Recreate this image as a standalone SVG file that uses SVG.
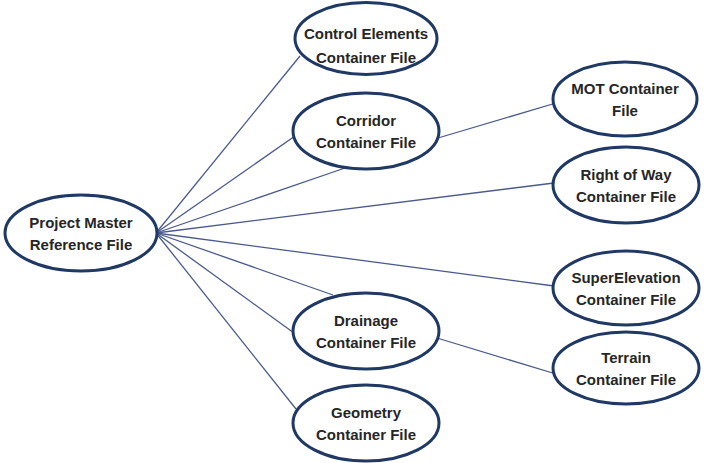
<svg xmlns="http://www.w3.org/2000/svg" width="707" height="463" viewBox="0 0 707 463">
<style>
.n ellipse{fill:#fff;stroke:#1f3864;stroke-width:3}
.n text{font-family:"Liberation Sans",Arial,sans-serif;font-weight:bold;font-size:15px;fill:#262626;text-anchor:middle}
.c line{stroke:#4a5a8c;stroke-width:1.3}
</style>
<rect width="707" height="463" fill="#fff"/>
<g id="connectors" class="c">
<line x1="156" y1="233" x2="300" y2="56"/>
<line x1="156" y1="233" x2="295" y2="136"/>
<line x1="156" y1="233" x2="345" y2="168"/>
<line x1="156" y1="233" x2="554" y2="183"/>
<line x1="156" y1="233" x2="554" y2="286"/>
<line x1="156" y1="233" x2="333" y2="295"/>
<line x1="156" y1="233" x2="294" y2="333"/>
<line x1="156" y1="233" x2="296" y2="409"/>
<line x1="438" y1="138" x2="556" y2="103"/>
<line x1="437" y1="338" x2="556" y2="374"/>
</g>
<g id="project-master" class="n"><ellipse cx="81" cy="233" rx="76" ry="38"/><text x="81" y="228">Project Master</text><text x="81" y="250">Reference File</text></g>
<g id="control-elements" class="n"><ellipse cx="366" cy="38.5" rx="71" ry="36"/><text x="366" y="39">Control Elements</text><text x="366" y="63">Container File</text></g>
<g id="corridor" class="n"><ellipse cx="366" cy="131" rx="73" ry="38"/><text x="366" y="126">Corridor</text><text x="366" y="148">Container File</text></g>
<g id="mot" class="n"><ellipse cx="625" cy="99" rx="72" ry="37"/><text x="625" y="94">MOT Container</text><text x="625" y="116">File</text></g>
<g id="right-of-way" class="n"><ellipse cx="626" cy="185" rx="73" ry="38"/><text x="626" y="180">Right of Way</text><text x="626" y="202">Container File</text></g>
<g id="superelevation" class="n"><ellipse cx="626" cy="288" rx="73" ry="37"/><text x="626" y="283">SuperElevation</text><text x="626" y="305">Container File</text></g>
<g id="drainage" class="n"><ellipse cx="366" cy="331" rx="73" ry="38"/><text x="366" y="326">Drainage</text><text x="366" y="348">Container File</text></g>
<g id="terrain" class="n"><ellipse cx="626" cy="368" rx="73" ry="36"/><text x="626" y="363">Terrain</text><text x="626" y="385">Container File</text></g>
<g id="geometry" class="n"><ellipse cx="366" cy="423" rx="73" ry="38"/><text x="366" y="418">Geometry</text><text x="366" y="440">Container File</text></g>
</svg>
